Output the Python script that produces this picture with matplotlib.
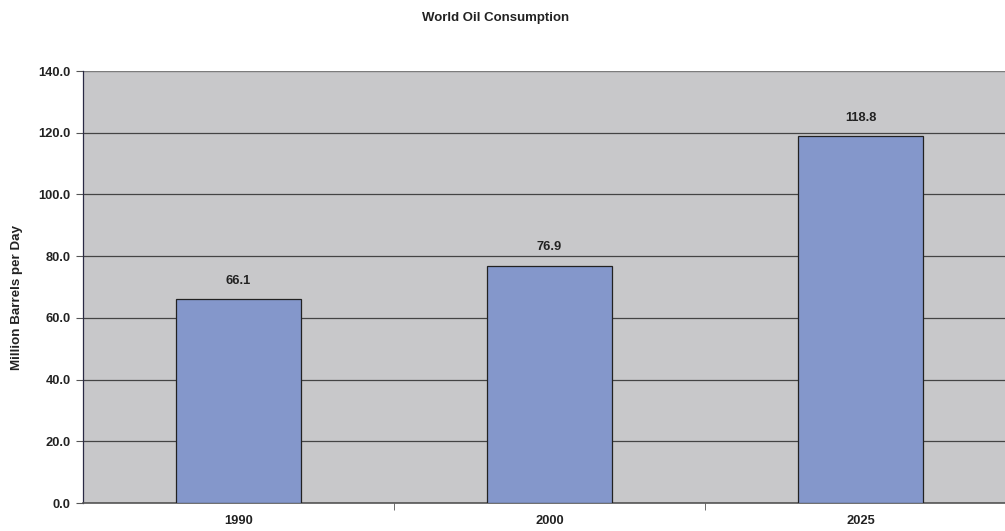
import matplotlib
matplotlib.use("Agg")
import matplotlib.pyplot as plt
import numpy as np

categories = ["1990", "2000", "2025"]
values = [66.1, 76.9, 118.8]
labels = ["66.1", "76.9", "118.8"]
yticks = [0, 20, 40, 60, 80, 100, 120, 140]

plt.rcParams['font.family'] = ['Liberation Sans', 'DejaVu Sans']

W, H = 1005, 531
FS = 9.3
fig = plt.figure(figsize=(W/100, H/100), dpi=100)
left, right, top, bottom = 83, 1016, 71, 503
ax = fig.add_axes([left/W, (H-bottom)/H, (right-left)/W, (bottom-top)/H])
ax.set_facecolor("#C8C8CA")

x = np.arange(len(categories))
ax.bar(x, values, width=0.405, color="#8497CB", edgecolor="#222222", linewidth=0.9, zorder=3)
for xi, v, lab in zip(x, values, labels):
    ax.text(xi, v + 4.0, lab, ha="center", va="bottom", fontsize=FS, fontweight="bold", color="#222222", zorder=4)

ax.set_xlim(-0.5, 2.5)
ax.set_ylim(0, 140)
ax.set_yticks(yticks)
ax.set_yticklabels([f"{t:.1f}" for t in yticks], fontsize=FS, fontweight="bold", color="#222222")
ax.yaxis.grid(True, color="#444444", linewidth=0.9, zorder=1)
ax.set_axisbelow(True)

ax.set_xticks(x)
ax.set_xticklabels(categories, fontsize=FS, fontweight="bold", color="#222222")
ax.tick_params(axis="x", length=0, pad=9)
ax.set_xticks([0.5, 1.5], minor=True)
ax.tick_params(axis="x", which="minor", length=5, color="#555555")
ax.tick_params(axis="y", length=5, color="#555555", pad=4)

for s in ["top", "right"]:
    ax.spines[s].set_visible(False)
ax.spines["left"].set_color("#2a2a44")
ax.spines["bottom"].set_color("#555555")
ax.spines["left"].set_linewidth(0.9)
ax.spines["bottom"].set_linewidth(1.2)
ax.axhline(140, color="#888888", linewidth=1.2, zorder=2)

fig.text(17/W, 1 - 297/H, "Million Barrels per Day", rotation=90,
         ha="center", va="center", fontsize=9.6, fontweight="bold", color="#222222")

fig.text(496/W, 1 - 18.5/H, "World Oil Consumption", ha="center", va="center",
         fontsize=9.5, fontweight="bold", color="#222222")

fig.savefig("out.png", dpi=100)
